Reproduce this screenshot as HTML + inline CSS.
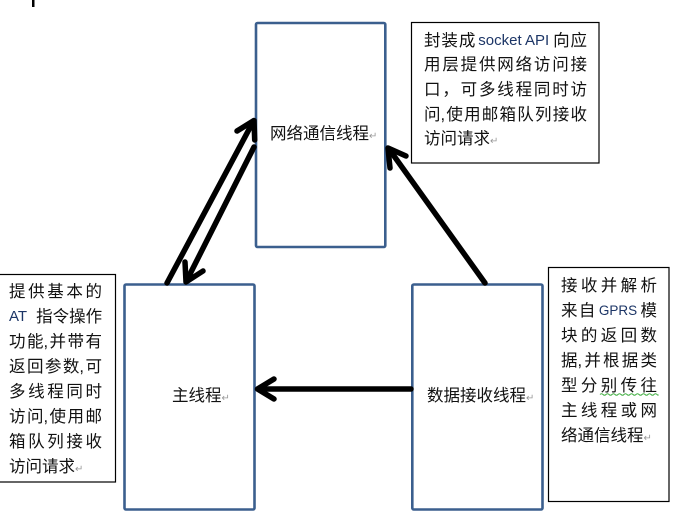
<!DOCTYPE html>
<html><head><meta charset="utf-8">
<style>
html,body{margin:0;padding:0;background:#fff;}
body{width:680px;height:528px;position:relative;overflow:hidden;font-family:"Liberation Sans","Noto Sans CJK SC",sans-serif;color:#111;}
svg{position:absolute;left:0;top:0;}
.ln{position:absolute;height:24px;line-height:24px;display:flex;justify-content:space-between;font-size:16.5px;white-space:nowrap;}
.nt{position:absolute;height:24px;line-height:24px;font-size:16.5px;white-space:nowrap;}
.lat{font-family:"Liberation Sans",sans-serif;font-size:15px;color:#1c3566;}
.rm{font-size:10px;color:#999;font-family:"DejaVu Sans",sans-serif;}
</style></head><body>
<svg width="680" height="528" viewBox="0 0 680 528">
  <!-- stray mark -->
  <rect x="32" y="0" width="2.5" height="7" fill="#000"/>
  <!-- note boxes -->
  <rect x="411.5" y="22.5" width="187.5" height="140.5" fill="#fff" stroke="#000" stroke-width="1.2"/>
  <rect x="-2" y="274.5" width="117.5" height="207.5" fill="#fff" stroke="#000" stroke-width="1.2"/>
  <rect x="548.5" y="267.5" width="120.5" height="234" fill="#fff" stroke="#000" stroke-width="1.2"/>
  <!-- thread boxes -->
  <rect x="256" y="23" width="129.3" height="224" rx="1.5" fill="#fff" stroke="#3b5f8e" stroke-width="2.6"/>
  <rect x="124.5" y="284.5" width="130" height="225" rx="1.5" fill="#fff" stroke="#3b5f8e" stroke-width="2.6"/>
  <rect x="412.3" y="284.5" width="130.2" height="225" rx="1.5" fill="#fff" stroke="#3b5f8e" stroke-width="2.6"/>
  <!-- arrows -->
  <g stroke="#000" stroke-width="5.5" fill="none" stroke-linecap="round" stroke-linejoin="round">
    <line x1="167" y1="283" x2="253.5" y2="121"/>
    <polyline points="237,131 254,120.5 254.7,140"/>
    <line x1="254" y1="147" x2="186.5" y2="281"/>
    <polyline points="203,271 186,282 185,262"/>
    <line x1="485" y1="283" x2="389" y2="149"/>
    <polyline points="390,168 388,148 406,156"/>
    <line x1="411" y1="389" x2="259" y2="389"/>
    <polyline points="274,379 257.5,389 274,399"/>
  </g>
  <!-- green wavy underline -->
  <path d="M600 394.5 q1.5 -1.5 3 0 t3 0 t3 0 t3 0 t3 0 t3 0 t3 0 t3 0 t3 0 t3 0 t3 0 t3 0 t3 0 t3 0 t3 0 t3 0 t3 0 t3 0 t3 0 t1 0" stroke="#3fae3f" stroke-width="1" fill="none"/>
</svg>

<!-- thread labels -->
<div class="nt" style="left:270px;top:122px;">网络通信线程<span class="rm">↵</span></div>
<div class="nt" style="left:172px;top:384px;">主线程<span class="rm">↵</span></div>
<div class="nt" style="left:427px;top:384px;">数据接收线程<span class="rm">↵</span></div>

<!-- top right note -->
<div class="ln" style="left:424px;top:28.7px;width:163px;"><span>封</span><span>装</span><span>成</span><span class="lat" style="margin:0 3px 0 2px">socket API</span><span>向</span><span>应</span></div>
<div class="ln" style="left:424px;top:53.3px;width:163px;"><span>用</span><span>层</span><span>提</span><span>供</span><span>网</span><span>络</span><span>访</span><span>问</span><span>接</span></div>
<div class="ln" style="left:424px;top:77.9px;width:163px;"><span>口</span><span>，</span><span>可</span><span>多</span><span>线</span><span>程</span><span>同</span><span>时</span><span>访</span></div>
<div class="ln" style="left:424px;top:102.5px;width:163px;"><span>问,</span><span>使</span><span>用</span><span>邮</span><span>箱</span><span>队</span><span>列</span><span>接</span><span>收</span></div>
<div class="nt" style="left:424px;top:127.1px;">访问请求<span class="rm">↵</span></div>

<!-- left note -->
<div class="ln" style="left:9px;top:280.3px;width:93px;"><span>提</span><span>供</span><span>基</span><span>本</span><span>的</span></div>
<div class="ln" style="left:9px;top:305.3px;width:93px;"><span class="lat" style="margin-right:9px">AT</span><span>指</span><span>令</span><span>操</span><span>作</span></div>
<div class="ln" style="left:9px;top:330.3px;width:93px;"><span>功</span><span>能,</span><span>并</span><span>带</span><span>有</span></div>
<div class="ln" style="left:9px;top:355.3px;width:93px;"><span>返</span><span>回</span><span>参</span><span>数,</span><span>可</span></div>
<div class="ln" style="left:9px;top:380.3px;width:93px;"><span>多</span><span>线</span><span>程</span><span>同</span><span>时</span></div>
<div class="ln" style="left:9px;top:405.3px;width:93px;"><span>访</span><span>问,</span><span>使</span><span>用</span><span>邮</span></div>
<div class="ln" style="left:9px;top:430.3px;width:93px;"><span>箱</span><span>队</span><span>列</span><span>接</span><span>收</span></div>
<div class="nt" style="left:9px;top:455.3px;">访问请求<span class="rm">↵</span></div>

<!-- right note -->
<div class="ln" style="left:561px;top:274.3px;width:96px;"><span>接</span><span>收</span><span>并</span><span>解</span><span>析</span></div>
<div class="ln" style="left:561px;top:299.2px;width:96px;"><span>来</span><span>自</span><span class="lat" style="margin:0 2px;font-size:13.5px">GPRS</span><span>模</span></div>
<div class="ln" style="left:561px;top:324.1px;width:96px;"><span>块</span><span>的</span><span>返</span><span>回</span><span>数</span></div>
<div class="ln" style="left:561px;top:349px;width:96px;"><span>据,</span><span>并</span><span>根</span><span>据</span><span>类</span></div>
<div class="ln" style="left:561px;top:373.9px;width:96px;"><span>型</span><span>分</span><span>别</span><span>传</span><span>往</span></div>
<div class="ln" style="left:561px;top:398.8px;width:96px;"><span>主</span><span>线</span><span>程</span><span>或</span><span>网</span></div>
<div class="nt" style="left:561px;top:423.7px;">络通信线程<span class="rm">↵</span></div>
</body></html>
